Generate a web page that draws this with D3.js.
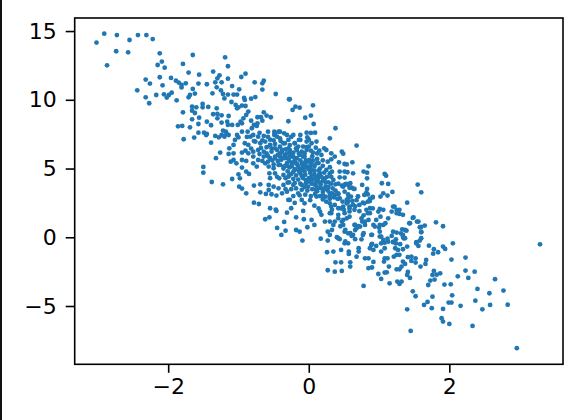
<!DOCTYPE html>
<html><head><meta charset="utf-8">
<script src="https://cdn.jsdelivr.net/npm/d3@7"></script>
<style>html,body{margin:0;padding:0;background:#fff}svg{display:block}</style>
</head><body><svg id="c" width="578" height="420"></svg>
<script>
const xTicks=[-2,0,2];
const yTicks=[-5,0,5,10,15];
const xDomain=[-3.33,3.617];
const yDomain=[-9.24,15.95];
const upperLeft=[[-3.02,14.16],[-2.91,14.81],[-2.73,14.71],[-2.55,14.35],[-2.43,14.71],[-2.31,14.71],[-2.22,14.42],[-2.74,13.53],[-2.57,13.45],[-2.87,12.51],[-2.12,13.38],[-1.65,13.26],[-1.19,13.09],[-2.09,12.78],[-2.15,12.53],[-2.05,12.34],[-1.79,12.61],[-1.15,12.44],[-1.71,11.98],[-1.56,11.83],[-1.36,12.05],[-1.27,11.78],[-0.90,11.90],[-0.96,11.66],[-2.12,11.64],[-1.96,11.59],[-2.32,11.47],[-2.26,11.18],[-2.08,11.05],[-1.89,11.39],[-1.85,11.25],[-1.75,11.2],[-1.81,11.08],[-1.45,11.13],[-1.57,11.18],[-1.30,11.56],[-1.33,11.27],[-1.24,11.27],[-1.15,11.54],[-1.31,10.91],[-1.09,11.0],[-0.77,11.27],[-0.64,11.39],[-0.66,11.2],[-0.66,10.74],[-2.44,10.69],[-2.32,10.18],[-2.17,10.35],[-2.27,9.75],[-2.06,10.4],[-1.95,10.52],[-1.99,10.35],[-2.02,10.16],[-1.88,9.96],[-1.81,10.9],[-1.65,10.79],[-1.69,10.35],[-1.71,10.18],[-1.62,10.45],[-1.37,10.47],[-1.25,10.69],[-1.22,10.42],[-1.20,10.1],[-1.15,10.38],[-1.07,10.38],[-0.99,10.76],[-1.10,9.84],[-1.02,10.38],[-0.92,10.13],[-0.91,9.99],[-0.82,10.08],[-0.76,10.2],[-0.47,10.42],[-0.28,10.04],[-1.04,9.62],[-1.0,9.45],[-0.95,9.58],[-1.02,9.38],[-0.90,9.55],[-1.66,9.5],[-1.60,9.45],[-1.51,9.7],[-1.51,9.45],[-1.43,9.48],[-1.31,9.38],[-1.66,9.21],[-1.62,9.04],[-1.79,9.09],[-1.36,8.95],[-1.30,8.97],[-1.24,8.87],[-1.14,8.82],[-1.30,8.65],[-0.86,9.14],[-0.89,8.9],[-0.93,8.65],[-0.97,8.41],[-0.64,9.09],[-0.73,8.73],[-0.68,8.73],[-0.60,8.85],[-0.54,8.73],[-1.66,8.58],[-1.56,8.7],[-1.57,8.24],[-1.45,8.41],[-1.39,8.15],[-1.24,8.34],[-1.16,8.41],[-1.86,8.07],[-1.80,8.1],[-1.69,8.0],[-1.15,8.17],[-1.09,8.17],[-1.01,8.17],[-0.95,8.29],[-0.82,8.48],[-0.78,8.17],[-0.73,8.29],[-0.66,8.48],[-0.29,8.44],[-1.57,7.61],[-1.49,7.61],[-1.45,7.52],[-1.63,7.25],[-1.78,7.13],[-1.39,6.88],[-1.46,7.44],[-1.33,7.37],[-1.28,7.27],[-1.22,7.76],[-1.18,7.68],[-1.24,7.44],[-1.17,7.52],[-1.14,7.44],[-1.20,7.32],[-1.02,7.44],[-0.95,7.68],[-0.87,7.68],[-0.81,7.93],[-0.74,8.1],[-1.0,7.27],[-1.05,7.08],[-0.83,7.32],[-0.79,7.44],[-0.72,7.32],[-0.64,7.37],[-0.58,7.68],[-0.49,7.68],[-0.43,7.68],[-0.49,7.44],[-0.35,7.56],[-0.31,7.44],[-0.45,7.32],[-0.41,7.2],[-1.13,6.47],[-1.07,6.72],[-0.91,6.84],[-0.86,6.72],[-0.76,6.96],[-0.69,6.84],[-0.62,6.96],[-0.55,6.72],[-0.48,6.79],[-0.36,6.84],[-0.29,7.08],[-1.14,6.06],[-1.26,6.16],[-1.07,6.11],[-0.95,6.16],[-0.86,6.11],[-0.79,6.23],[-0.72,6.35],[-0.64,6.23],[-0.53,6.47],[-0.45,6.35],[-0.38,6.35],[-0.29,6.47],[-1.32,5.75],[-1.11,5.5],[-1.07,5.62],[-1.03,5.38],[-0.95,5.62],[-0.89,5.55],[-0.79,5.87],[-0.72,5.62],[-0.64,5.87],[-0.55,5.75],[-0.48,5.87],[-0.41,5.87],[-0.34,5.75],[-0.27,5.87],[-1.50,5.12],[-1.50,4.7],[-0.95,5.07],[-0.79,5.38],[-0.74,5.14],[-0.62,5.38],[-0.57,5.14],[-0.50,5.02],[-0.43,5.26],[-0.36,5.14],[-0.29,5.14],[-0.89,4.78],[-0.85,4.61],[-1.0,4.58],[-0.98,4.29],[-1.09,4.24],[-1.38,4.02],[-1.22,3.85],[-0.99,3.68],[-0.95,3.54],[-0.89,3.2],[-0.78,3.76],[-0.69,3.85],[-0.69,3.27],[-0.61,3.15],[-0.56,4.65],[-0.48,4.65],[-0.42,4.29],[-0.36,4.53],[-0.29,4.41],[-0.57,3.81],[-0.50,3.68],[-0.43,3.56],[-0.36,3.81],[-0.30,3.98],[-0.53,3.13],[-0.46,3.03],[-0.38,3.2],[-0.31,3.32],[-0.57,3.44],[-0.78,2.52],[-0.71,2.42],[-0.55,2.11],[-0.47,2.01],[-0.29,2.72]];
const upperRight=[[-0.27,10.04],[-0.19,9.5],[-0.23,9.26],[-0.13,9.43],[0.06,9.6],[-0.05,8.7],[0.03,8.85],[0.07,8.24],[0.38,7.93],[-0.03,7.61],[0.03,7.59],[0.09,7.61],[0.30,7.2],[-0.22,7.44],[-0.12,7.44],[-0.14,7.08],[-0.02,7.27],[0.11,6.96],[0.04,6.84],[-0.2,6.84],[-0.03,6.55],[0.10,6.52],[0.68,6.67],[0.22,6.47],[0.25,6.35],[0.47,6.23],[0.49,6.08],[0.32,6.11],[0.37,5.87],[0.06,6.16],[0.18,5.99],[0.62,5.45],[0.51,5.33],[0.54,5.3],[0.43,5.45],[0.27,5.5],[0.32,5.67],[0.85,5.16],[0.78,4.78],[0.83,4.7],[0.63,4.65],[0.44,4.78],[0.51,4.78],[0.55,4.73],[1.08,4.61],[1.10,4.48],[0.83,4.29],[0.44,4.36],[0.51,4.34],[0.30,4.65],[0.35,4.17],[0.23,4.29],[0.16,4.65],[0.04,4.9],[0.11,5.38],[0.01,5.62],[-0.06,5.87],[-0.13,5.99],[-0.22,5.87],[-0.18,5.38],[-0.08,5.38],[-0.01,5.14],[-0.2,4.9],[-0.1,4.9],[-0.27,6.35],[-0.18,6.47],[1.55,3.83],[1.60,3.27],[1.04,3.93],[1.13,3.88],[0.76,3.81],[0.59,3.93],[0.53,3.88],[0.49,3.68],[0.65,3.52],[0.61,3.61],[0.83,3.52],[0.82,3.25],[0.79,3.08],[0.70,2.98],[1.06,3.2],[1.19,3.3],[1.02,2.96],[1.12,3.03],[0.91,2.93],[0.87,2.79],[0.77,2.52],[0.84,2.59],[1.40,2.52],[1.20,2.23],[1.25,1.99],[1.01,2.06],[0.56,2.59],[0.63,2.35],[0.42,3.13],[0.41,2.79],[0.30,3.2],[0.18,3.56],[0.11,2.96],[0.25,2.59],[0.11,4.05],[-0.01,4.05],[-0.01,3.68],[-0.10,3.81],[-0.22,3.81],[-0.15,3.2],[-0.10,2.72],[-0.27,2.72],[-0.25,2.11],[-0.06,2.47],[0.32,2.23],[0.49,2.23],[0.58,2.11],[0.87,2.11]];
const lowerRight=[[3.29,-0.51],[2.96,-8.07],[1.45,-6.81],[1.40,-5.24],[0.78,-3.54],[2.33,-6.45],[2.0,-6.3],[1.91,-6.13],[1.89,-5.89],[1.91,-5.21],[1.75,-5.16],[1.64,-4.92],[1.69,-4.70],[1.76,-4.32],[1.52,-4.29],[1.48,-3.93],[2.04,-4.22],[1.99,-4.75],[2.03,-4.75],[2.16,-4.99],[2.37,-4.61],[2.47,-5.24],[2.58,-4.92],[2.83,-4.9],[2.77,-3.88],[2.57,-4.07],[2.40,-3.76],[2.65,-3.05],[2.27,-2.96],[2.12,-2.84],[2.23,-2.42],[2.36,-2.5],[1.93,-3.44],[2.02,-3.42],[1.70,-3.47],[1.73,-3.15],[1.79,-3.08],[1.76,-2.74],[1.82,-2.72],[1.87,-2.62],[1.78,-2.45],[2.23,-1.48],[2.03,-1.62],[2.05,-0.44],[1.91,-0.68],[1.94,-0.85],[1.81,1.09],[1.91,0.8],[1.78,-0.87],[1.84,-1.09],[1.77,-1.19],[1.71,-0.61],[1.67,-1.65],[1.66,-1.94],[1.59,-2.13],[1.52,-1.84],[1.46,-1.72],[1.40,-0.68],[1.53,-0.36],[1.60,-0.07],[1.58,-0.24],[1.56,-0.63],[1.60,0.36],[1.58,0.73],[1.65,0.85],[1.48,1.41],[1.54,1.14],[1.43,1.02],[1.39,0.48],[1.33,0.58],[1.20,0.41],[1.25,0.34],[1.34,0.17],[1.35,-0.07],[1.20,-0.34],[1.13,-0.32],[1.03,0.05],[1.03,-0.44],[0.96,-0.63],[0.89,-0.56],[0.87,-0.8],[0.92,-0.92],[1.08,-0.8],[1.03,-1.04],[1.23,-0.8],[1.27,-0.92],[1.34,-0.87],[1.25,-1.28],[1.29,-1.28],[1.21,-1.41],[1.41,-1.45],[1.46,-1.41],[1.52,-1.53],[1.34,-1.77],[1.37,-1.94],[1.08,-1.53],[1.12,-1.53],[1.07,-1.77],[0.92,-1.79],[0.80,-1.53],[0.85,-1.53],[0.68,-1.41],[0.71,-1.04],[0.71,-0.8],[0.57,-1.04],[0.57,-1.21],[0.46,-0.92],[0.35,-1.04],[0.26,-1.09],[0.38,-1.82],[0.46,-1.82],[0.59,-1.82],[0.59,-2.13],[0.27,-2.4],[0.37,-2.5],[0.47,-2.45],[0.85,-2.25],[0.90,-2.2],[0.99,-2.67],[1.03,-3.03],[1.08,-2.57],[1.11,-2.55],[1.14,-2.13],[1.25,-2.33],[1.29,-2.33],[1.32,-2.13],[1.41,-2.52],[1.40,-2.74],[1.44,-2.96],[1.15,-3.35],[1.26,-3.22],[1.29,-3.39],[1.32,-3.22],[-0.09,-0.24],[0.17,-0.1],[0.27,-0.24],[0.42,-0.07],[0.51,-0.44],[0.56,-0.44],[0.75,-0.15],[0.63,0.17],[0.51,0.41],[0.27,0.41],[-0.18,0.53],[-0.13,0.41],[-0.02,0.73],[0.08,0.9],[-0.07,1.31],[-0.18,1.45],[0.04,1.26],[0.23,1.14],[0.35,0.9],[0.49,0.9],[0.65,0.9],[0.80,1.14],[0.94,0.78],[1.06,0.9],[0.89,0.17],[0.77,0.17],[0.42,1.38],[0.58,1.5],[0.84,1.75],[1.13,1.38],[1.29,1.7],[0.99,1.87],[1.18,1.87],[0.32,1.75],[0.16,1.87],[-0.08,1.92],[0.75,1.38],[0.96,1.26],[0.18,1.63],[0.68,0.65],[0.73,0.78],[0.56,0.29],[0.47,1.14],[-0.62,1.31],[-0.56,1.45],[-0.46,1.92],[-0.31,1.79],[-0.35,1.12],[-0.45,0.68],[-0.33,0.48],[-0.39,0.17]];
const midRight=[[0.33,4.77],[0.42,3.9],[0.47,3.76],[0.51,3.82],[0.56,3.82],[0.58,3.6],[0.64,3.52],[0.33,3.2],[0.37,3.08],[0.42,3.2],[0.51,3.32],[0.56,3.12],[0.60,2.96],[0.44,2.83],[0.54,2.71],[0.70,2.96],[0.84,3.12],[0.91,2.9],[0.79,2.47],[0.87,2.64],[0.91,2.1],[0.30,2.47],[0.37,2.35],[0.33,2.0],[0.42,2.11],[0.54,2.47],[0.58,2.23],[0.63,2.35],[0.65,2.0],[0.58,1.88],[0.82,2.0],[0.87,1.75],[1.06,2.0],[1.02,1.5],[1.22,2.23],[1.29,2.0],[1.34,1.63],[1.25,1.75],[0.30,1.75],[0.42,1.63],[0.51,1.75],[0.54,1.38],[0.49,1.26],[0.37,1.14],[0.30,1.14],[0.33,0.53],[0.45,0.8],[0.52,0.53],[0.59,0.3],[0.66,0.9],[0.71,0.8],[0.76,1.14],[0.85,1.26],[0.80,0.9],[0.92,0.9],[1.01,0.9],[1.09,1.02],[0.66,0.53],[0.78,0.3],[0.90,0.18],[1.01,0.05],[1.01,0.41],[1.06,-0.2],[1.37,0.53],[1.49,1.45],[1.44,1.02],[1.56,1.14],[1.6,0.75],[1.6,0.41],[1.31,0.29],[1.34,0.05],[1.37,-0.07],[1.2,-0.36],[1.08,-0.39],[0.9,-0.48],[0.4,0.0],[0.44,-0.14],[0.52,-0.3],[0.66,-0.14],[0.61,0.1],[0.3,0.17],[1.53,-0.45]];
const core=[[-0.48,7.56],[-0.41,7.68],[-0.55,6.71],[-0.48,6.47],[-0.41,6.59],[-0.34,6.84],[-0.27,6.71],[-0.2,6.84],[-0.12,7.08],[-0.03,6.96],[-0.41,6.1],[-0.34,5.99],[-0.27,6.23],[-0.17,6.35],[-0.1,6.23],[-0.03,6.35],[-0.48,5.75],[-0.39,5.63],[-0.3,5.75],[-0.24,5.87],[-0.17,5.75],[-0.08,5.87],[-0.6,6.1],[-0.53,6.23],[-0.58,5.5],[-0.5,5.3],[-0.41,5.27],[-0.31,5.39],[-0.24,5.43],[-0.17,5.34],[-0.1,5.34],[0.0,5.5],[-0.36,5.0],[-0.27,5.09],[-0.2,4.95],[-0.13,5.0],[-0.04,5.09],[0.02,5.14],[-0.25,4.6],[-0.18,4.5],[-0.12,4.65],[-0.05,4.55],[0.02,4.7],[0.08,4.6],[0.14,4.5],[-0.22,4.25],[-0.15,4.2],[-0.08,4.3],[0.0,4.3],[0.06,4.2],[0.13,4.25],[0.2,4.1],[0.28,4.0],[-0.2,3.95],[-0.12,3.9],[-0.04,3.95],[0.04,3.9],[0.1,3.75],[0.17,3.85],[0.24,3.7],[-0.25,3.5],[-0.18,3.55],[-0.1,3.45],[-0.02,3.4],[0.05,3.5],[0.12,3.35],[0.2,3.3],[0.27,3.4],[-0.22,3.0],[-0.13,3.05],[-0.05,3.1],[0.03,3.0],[0.09,3.15],[0.16,3.0],[0.24,2.95],[0.02,2.7],[0.2,2.75],[-0.2,2.5],[0.3,2.8],[0.08,2.3],[0.14,2.1],[0.05,5.9],[0.12,5.7],[0.2,5.6],[0.2,5.2],[0.16,5.0],[0.25,4.9],[0.3,5.1],[0.08,5.15],[-0.04,5.6],[0.03,6.3],[0.12,6.1],[0.15,6.3],[-0.08,6.6],[0.0,6.6],[-0.15,6.6],[-0.25,6.05],[-0.33,6.4],[-0.55,4.3],[-0.45,4.4],[-0.33,4.3],[-0.28,4.0],[-0.33,3.5]];
const coreDense=[[-0.68,6.5],[-0.6,6.55],[-0.7,6.05],[-0.58,5.9],[-0.66,5.55],[-0.52,5.6],[-0.44,5.55],[-0.44,6.0],[-0.38,6.2],[-0.31,6.1],[-0.22,6.15],[-0.14,6.1],[-0.06,6.1],[-0.36,5.8],[-0.28,5.55],[-0.2,5.6],[-0.12,5.6],[-0.05,5.35],[0.04,5.35],[-0.33,5.2],[-0.24,5.2],[-0.15,5.15],[-0.08,5.1],[0.06,5.6],[0.14,5.4],[-0.3,4.8],[-0.22,4.75],[-0.14,4.82],[-0.06,4.8],[0.0,4.95],[0.08,4.85],[0.14,4.85],[0.22,4.7],[-0.28,4.5],[-0.1,4.45],[0.04,4.45],[0.1,4.35],[0.18,4.4],[0.26,4.4],[0.32,4.4],[-0.04,4.15],[0.02,4.1],[0.15,4.0],[0.24,4.0],[0.32,3.9],[0.38,3.85],[0.08,3.85],[0.22,3.5],[0.28,3.65],[0.34,3.55],[0.38,3.4],[0.14,3.6],[-0.06,3.65],[0.1,3.45],[0.3,3.0],[0.36,2.9],[0.2,3.05],[-0.66,7.05],[-0.55,7.1],[-0.58,7.3],[-0.7,7.6],[-0.78,7.0],[-0.88,7.3],[-0.9,6.3],[-0.82,6.45],[-0.5,7.05],[-0.4,7.0],[-0.25,7.3],[0.0,7.1],[0.56,2.85],[0.62,2.65],[0.68,2.7],[0.72,2.35],[0.48,2.6],[0.46,2.1],[0.5,2.0],[0.66,2.25],[0.72,1.9],[0.78,1.6],[1.0,0.7],[1.18,0.1],[1.12,-0.1],[1.24,-0.15],[1.3,-0.5],[1.24,-0.45]];

const points=[...upperLeft,...upperRight,...lowerRight,...midRight,...core,...coreDense];
const L=74.7,R=563,T=18,B=364.3;
const x=d3.scaleLinear().domain(xDomain).range([L,R]);
const y=d3.scaleLinear().domain(yDomain).range([B,T]);
const svg=d3.select('#c');
svg.append('rect').attr('x',0).attr('y',0).attr('width',2).attr('height',420).attr('fill','#111');
svg.append('g').selectAll('circle').data(points).join('circle')
  .attr('cx',d=>x(d[0])).attr('cy',d=>y(d[1])).attr('r',2.4).attr('fill','#1f77b4');
const fmt=d=>String(d).replace('-','\u2212');
const ax=svg.append('g').attr('transform',`translate(0,${B})`)
  .call(d3.axisBottom(x).tickValues(xTicks).tickFormat(fmt).tickSize(8.5).tickSizeOuter(0).tickPadding(6));
const ay=svg.append('g').attr('transform',`translate(${L},0)`)
  .call(d3.axisLeft(y).tickValues(yTicks).tickFormat(fmt).tickSize(9).tickSizeOuter(0).tickPadding(9));
[ax,ay].forEach(g=>{
  g.select('.domain').remove();
  g.selectAll('line').attr('stroke','#000').attr('stroke-width',1.6);
  g.selectAll('text').attr('fill','#000').style('font-family','"DejaVu Sans"').style('font-size','22px');
});
svg.append('rect').attr('x',L).attr('y',T).attr('width',R-L).attr('height',B-T)
  .attr('fill','none').attr('stroke','#000').attr('stroke-width',1.6);
</script></body></html>
